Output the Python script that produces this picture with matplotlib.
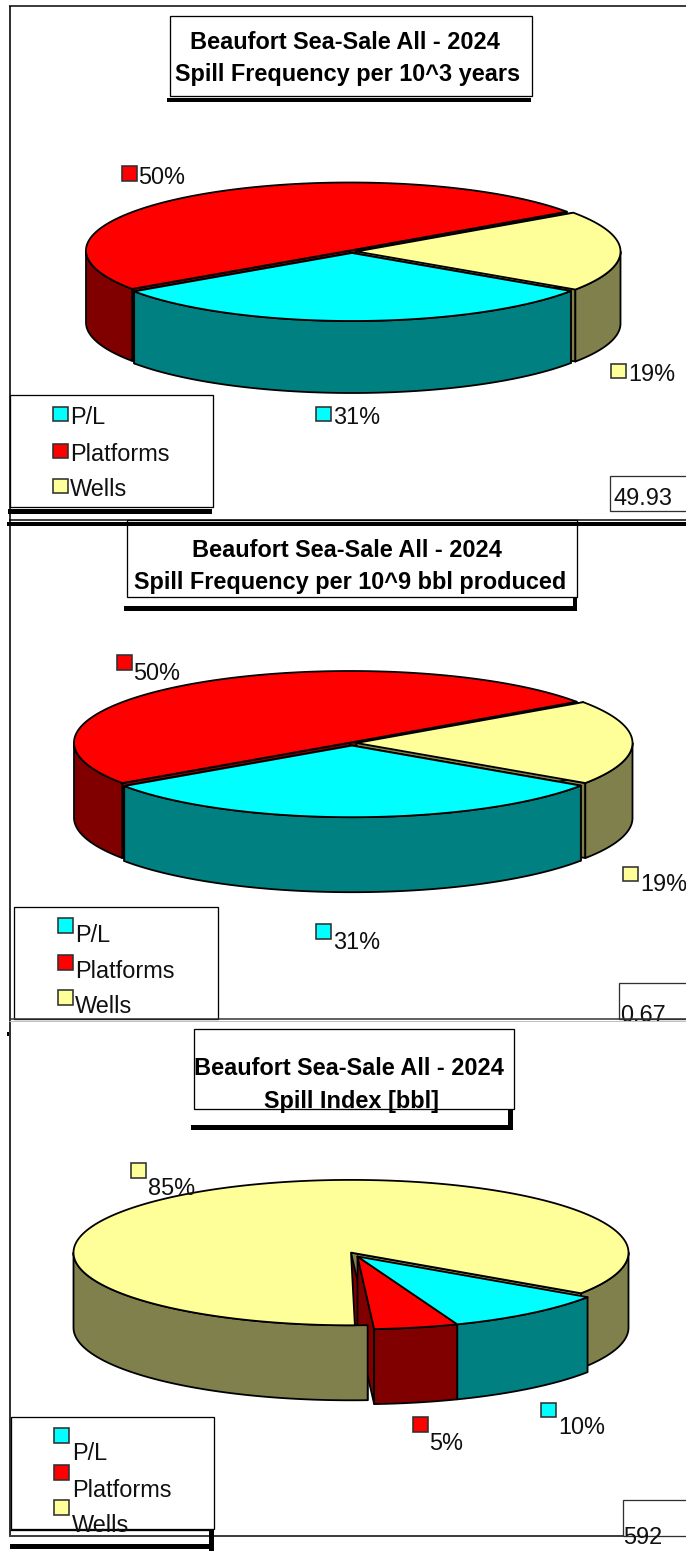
import numpy as np
import matplotlib
matplotlib.use("Agg")
import matplotlib.pyplot as plt
from matplotlib.patches import Polygon, Rectangle

plt.rcParams['font.family'] = ['Liberation Sans', 'DejaVu Sans']

# ---------- data ----------
categories = ['P/L', 'Platforms', 'Wells']
freq_years = [31.0, 49.9, 19.1]
freq_bbl = [31.0, 49.9, 19.1]
spill_index = [9.7, 4.9, 85.4]
pct_labels_1 = ['31%', '50%', '19%']
pct_labels_2 = ['31%', '50%', '19%']
pct_labels_3 = ['10%', '5%', '85%']
titles_1 = ['Beaufort Sea-Sale All - 2024', 'Spill Frequency per 10^3 years']
titles_2 = ['Beaufort Sea-Sale All - 2024', 'Spill Frequency per 10^9 bbl produced']
titles_3 = ['Beaufort Sea-Sale All - 2024', 'Spill Index [bbl]']
totals = ['49.93', '0.67', '592']

# ---------- styles ----------
TOP = {'P/L': '#00FFFF', 'Platforms': '#FF0000', 'Wells': '#FFFF99'}
SIDE = {'P/L': '#008080', 'Platforms': '#800000', 'Wells': '#80804D'}
PX = 0.72
FS_LABEL = 16.9
FS_TITLE = 16.9
LABEL_DY = 1.5
TITLE_DY = 0.8

fig = plt.figure(figsize=(6.86, 15.51), dpi=100)
ax = fig.add_axes([0, 0, 1, 1])
ax.set_xlim(0, 686)
ax.set_ylim(1551, 0)
ax.axis('off')


def poly(pts, fc, z, lw=1.8):
    ax.add_patch(Polygon(pts, closed=True, fc=fc, ec='black', lw=lw * PX, zorder=z, joinstyle='round'))


def arc(c, rx, ry, a1, a2, dy=0):
    n = max(2, int(abs(a2 - a1)) * 2 + 2)
    t = np.radians(np.linspace(a1, a2, n))
    return np.column_stack([c[0] + rx * np.cos(t), c[1] - ry * np.sin(t) + dy])


def pie3d(values, start, rx, ry, depth, centers, steps, z, trim=None, end_color=None):
    """Draw the slices in the order of steps: (category, parts) pairs,
    parts being any of lo, hi (radial faces), outer (wall), top."""
    spans = {}
    a = start
    for nm, v in zip(categories, values):
        spans[nm] = (a - v * 3.6, a)
        a -= v * 3.6
    for i, (nm, parts) in enumerate(steps):
        a1, a2 = spans[nm]
        c = centers[nm]
        zz = z + i * 0.1
        if 'lo' in parts or 'hi' in parts:
            for key, ang in (('lo', a1), ('hi', a2)):
                if key in parts:
                    col = SIDE[nm]
                    if key == 'hi' and end_color and nm == 'Wells':
                        col = end_color
                    rim = arc(c, rx, ry, ang, ang)[0]
                    poly([c, rim, (rim[0], rim[1] + depth), (c[0], c[1] + depth)], col, zz)
        if 'outer' in parts:
            for k in range(-2, 2):
                lo, hi = max(a1, 180 + 360 * k), min(a2, 360 + 360 * k)
                if hi > lo:
                    poly(np.vstack([arc(c, rx, ry, lo, hi), arc(c, rx, ry, hi, lo, depth)]), SIDE[nm], zz)
        if 'top' in parts:
            a_top = trim if (trim is not None and nm == 'Wells') else a2
            poly(np.vstack([[c], arc(c, rx, ry, a1, a_top)]), TOP[nm], zz + 0.05)


def swatch(x, y, name, w=15, h=14.5):
    ax.add_patch(Rectangle((x, y), w, h, fc=TOP[name], ec='#303030', lw=1.6 * PX, zorder=20))


def label(x, y, s, clip=None):
    t = ax.text(x, y + LABEL_DY, s, fontsize=FS_LABEL, ha='left', va='center', color='#101010', zorder=21)
    if clip:
        t.set_clip_path(Rectangle((clip[0], clip[1]), clip[2], clip[3], transform=ax.transData))
    return t


def box(x0, y0, x1, y1, z=15, ec='black', lw=1.3):
    ax.add_patch(Rectangle((x0, y0), x1 - x0, y1 - y0, fc='white', ec=ec, lw=lw * PX, zorder=z))


def bar(x0, y0, x1, y1, z=14):
    ax.add_patch(Rectangle((x0, y0), x1 - x0, y1 - y0, fc='black', ec='none', zorder=z))


def hline(y, x0, x1, c='black', lw=1.5, z=12):
    ax.plot([x0, x1], [y, y], color=c, lw=lw * PX, zorder=z, solid_capstyle='butt')


def vline(x, y0, y1, c='black', lw=1.5, z=12):
    ax.plot([x, x], [y0, y1], color=c, lw=lw * PX, zorder=z, solid_capstyle='butt')


def title(lines, positions):
    for s, (x, y) in zip(lines, positions):
        ax.text(x, y + TITLE_DY, s, fontsize=FS_TITLE, fontweight='bold', ha='center', va='center',
                color='black', zorder=22)


def legend(swx, ys, tx, tys):
    for nm, y, ty in zip(categories, ys, tys):
        swatch(swx, y, nm)
        label(tx, ty, nm)


ALL = 'lo hi outer top'
STEPS_A = [('Platforms', ALL), ('Wells', ALL), ('P/L', ALL)]
STEPS_B = [('Wells', 'lo'), ('Wells', 'hi'), ('Platforms', 'lo'), ('Wells', 'outer top'),
           ('Platforms', 'outer top'), ('P/L', 'outer top')]

# ---------- frames ----------
vline(9.6, 6, 1535, lw=1.6)
hline(6, 9, 686)
hline(519.8, 9, 686, lw=1.5)
bar(7, 522, 686, 526, z=13)
hline(1019, 9, 686, c='#303030', lw=1.5, z=24)
hline(1020.5, 9, 686, c='#c0c0c0', lw=1, z=24)
bar(7, 1032, 9, 1036)
hline(1535.5, 9, 686, lw=1.5, z=13)

# ---------- chart 1 ----------
bar(167, 98, 530.6, 102.4)
box(169.7, 15.5, 531.5, 95.7)
title(titles_1, [(345, 42), (348, 73.7)])
pie3d(freq_years, 326, 264, 68, 72,
      {'Platforms': (350, 250.5), 'Wells': (356.5, 251.5), 'P/L': (352, 253)}, STEPS_A, 3)
bar(8, 509, 212, 514)
box(9.6, 395, 213, 507)
legend(52.5, [406.5, 443.5, 478.5], 70, [416, 453, 488])
swatch(121.6, 166, 'Platforms')
label(138, 176, pct_labels_1[1])
swatch(611, 363.5, 'Wells')
label(628.6, 373, pct_labels_1[2])
swatch(316, 406.5, 'P/L')
label(333, 416, pct_labels_1[0])
box(610, 475.6, 690, 511, ec='#303030')
label(613, 497, totals[0])

# ---------- chart 2 ----------
bar(124, 606.3, 576.6, 610.7)
bar(573, 597, 576.6, 607)
box(126.9, 520, 577.4, 597, z=11)
title(titles_2, [(346.7, 550), (350.4, 582)])
pie3d(freq_bbl, 326, 276, 71.6, 75,
      {'Platforms': (350, 742.6), 'Wells': (356.5, 743), 'P/L': (352, 745.6)}, STEPS_A, 3)
box(14.4, 906.6, 217.8, 1019, z=15)
legend(57.7, [918, 955, 990], 74.8, [934, 970.5, 1005])
swatch(116.8, 655, 'Platforms')
label(133, 672, pct_labels_2[1])
swatch(622.5, 866.7, 'Wells')
label(640, 883, pct_labels_2[2])
swatch(316, 924, 'P/L')
label(333, 941, pct_labels_2[0])
box(619, 983.3, 690, 1019, ec='#303030')
label(620, 1013.7, totals[1], clip=(600, 975, 90, 44))

# ---------- chart 3 ----------
bar(191, 1124.8, 512.7, 1130)
bar(508.3, 1108, 512.7, 1126)
box(193.8, 1029, 514, 1108.6)
title(titles_3, [(348.6, 1068), (351.7, 1100.5)])
pie3d(spill_index, 326, 277.5, 72.7, 75,
      {'Platforms': (357.5, 1256.5), 'Wells': (351, 1252.6), 'P/L': (357.5, 1256.5)},
      STEPS_B, 3, trim=270.8, end_color=SIDE['Platforms'])
hline(1529.5, 9.6, 211, lw=1.3, z=13)
bar(209, 1529, 213.5, 1551)
bar(9.6, 1544, 213.5, 1549)
box(11, 1417, 214.4, 1529)
legend(54.2, [1428.4, 1465, 1500], 71.7, [1452, 1489, 1524])
swatch(131, 1163, 'Wells')
label(148, 1186.7, pct_labels_3[2])
swatch(412.5, 1417.3, 'Platforms')
label(429.6, 1441.6, pct_labels_3[1])
swatch(540.7, 1402.7, 'P/L')
label(558.6, 1426, pct_labels_3[0])
box(622.5, 1499.7, 690, 1535.5, ec='#303030')
label(623.4, 1536, totals[2])

fig.savefig('out.png', dpi=100)
